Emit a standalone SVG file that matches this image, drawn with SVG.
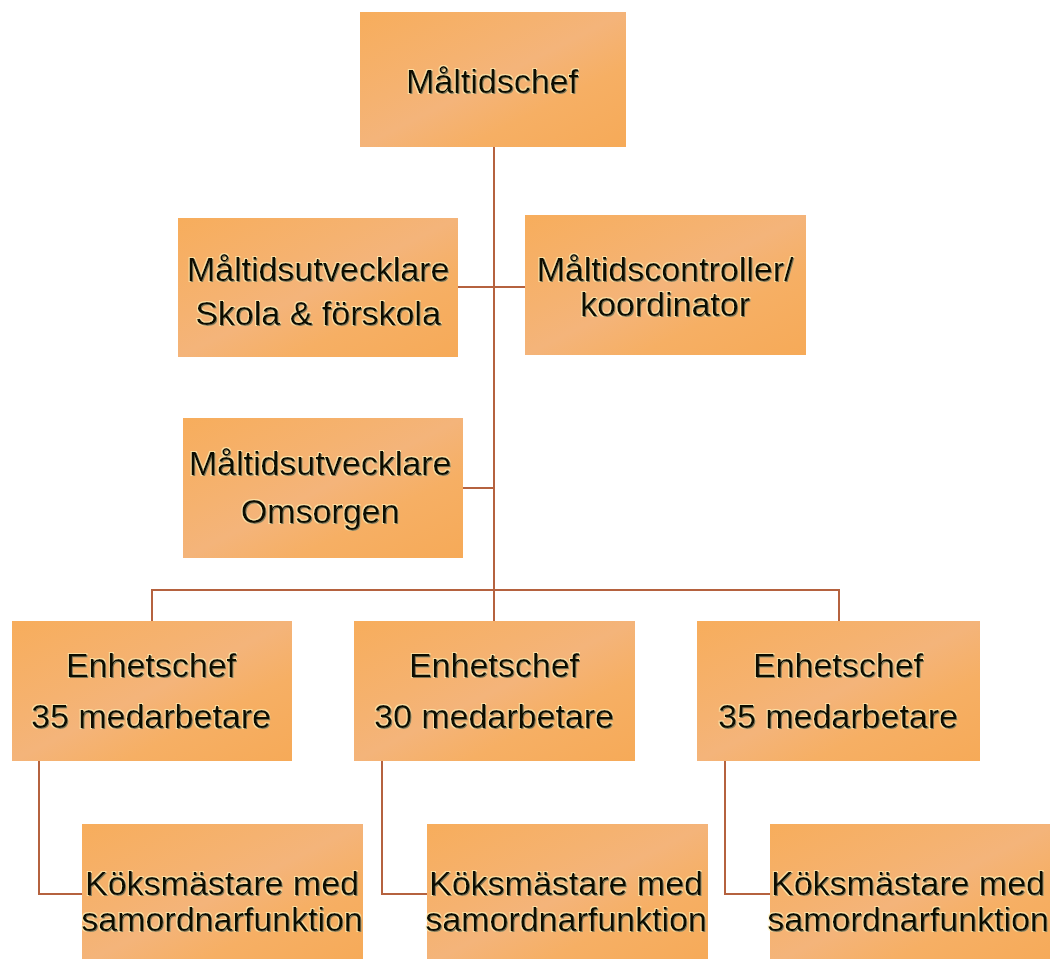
<svg xmlns="http://www.w3.org/2000/svg" width="1050" height="959" viewBox="0 0 1050 959">
  <defs>
    <linearGradient id="boxFill" x1="0" y1="0" x2="1" y2="1">
      <stop offset="0" stop-color="#F7AD5C"/>
      <stop offset="0.35" stop-color="#F5B270"/>
      <stop offset="0.5" stop-color="#F4B47A"/>
      <stop offset="0.7" stop-color="#F6AF64"/>
      <stop offset="1" stop-color="#F6AA58"/>
    </linearGradient>
    <!-- dark offset shadow plus a pale halo behind the labels -->
    <filter id="glow" x="-5%" y="-20%" width="110%" height="140%">
      <feOffset in="SourceAlpha" dx="1" dy="1" result="off"/>
      <feFlood flood-color="#000000" flood-opacity="0.75"/>
      <feComposite in2="off" operator="in" result="dark"/>
      <feMorphology in="SourceAlpha" operator="dilate" radius="1" result="fat"/>
      <feOffset in="fat" dx="-0.5" dy="-0.5" result="fatOff"/>
      <feFlood flood-color="#FFF2B8" flood-opacity="0.7"/>
      <feComposite in2="fatOff" operator="in" result="halo"/>
      <feMerge>
        <feMergeNode in="halo"/>
        <feMergeNode in="dark"/>
        <feMergeNode in="SourceGraphic"/>
      </feMerge>
    </filter>
  </defs>
  <style>
    .box { fill: url(#boxFill); }
    .lbl { font-family: "Liberation Sans", Arial, sans-serif; font-size: 34px; fill: #0E0A05; text-anchor: middle; filter: url(#glow); }
    .conn { fill: none; stroke: #B5623F; stroke-width: 2; }
  </style>

  <rect width="1050" height="959" fill="#FFFFFF"/>

  <g id="connectors">
    <line class="conn" x1="494" y1="147" x2="494" y2="621"/>
    <line class="conn" x1="458" y1="287" x2="525" y2="287"/>
    <line class="conn" x1="463" y1="488" x2="494" y2="488"/>
    <polyline class="conn" points="152,621 152,590 839,590 839,621"/>
    <polyline class="conn" points="39,761 39,894 82,894"/>
    <polyline class="conn" points="382,761 382,894 427,894"/>
    <polyline class="conn" points="725,761 725,894 770,894"/>
  </g>

  <g id="maltidschef">
    <rect class="box" x="360" y="12" width="266" height="135"/>
    <text class="lbl" x="492" y="93">Måltidschef</text>
  </g>

  <g id="utvecklare-skola">
    <rect class="box" x="178" y="218" width="280" height="139"/>
    <text class="lbl" x="318" y="281">Måltidsutvecklare</text>
    <text class="lbl" x="318" y="325">Skola &amp; förskola</text>
  </g>

  <g id="controller">
    <rect class="box" x="525" y="215" width="281" height="140"/>
    <text class="lbl" x="665" y="281">Måltidscontroller/</text>
    <text class="lbl" x="665" y="316">koordinator</text>
  </g>

  <g id="utvecklare-omsorg">
    <rect class="box" x="183" y="418" width="280" height="140"/>
    <text class="lbl" x="320" y="475">Måltidsutvecklare</text>
    <text class="lbl" x="320" y="523">Omsorgen</text>
  </g>

  <g id="enhetschef-1">
    <rect class="box" x="12" y="621" width="280" height="140"/>
    <text class="lbl" x="151" y="677">Enhetschef</text>
    <text class="lbl" x="151" y="728">35 medarbetare</text>
  </g>

  <g id="enhetschef-2">
    <rect class="box" x="354" y="621" width="281" height="140"/>
    <text class="lbl" x="494" y="677">Enhetschef</text>
    <text class="lbl" x="494" y="728">30 medarbetare</text>
  </g>

  <g id="enhetschef-3">
    <rect class="box" x="697" y="621" width="283" height="140"/>
    <text class="lbl" x="838" y="677">Enhetschef</text>
    <text class="lbl" x="838" y="728">35 medarbetare</text>
  </g>

  <g id="koksmastare-1">
    <rect class="box" x="82" y="824" width="281" height="140"/>
    <text class="lbl" x="222" y="895">Köksmästare med</text>
    <text class="lbl" x="222" y="931">samordnarfunktion</text>
  </g>

  <g id="koksmastare-2">
    <rect class="box" x="427" y="824" width="281" height="140"/>
    <text class="lbl" x="566" y="895">Köksmästare med</text>
    <text class="lbl" x="566" y="931">samordnarfunktion</text>
  </g>

  <g id="koksmastare-3">
    <rect class="box" x="770" y="824" width="285" height="140"/>
    <text class="lbl" x="908" y="895">Köksmästare med</text>
    <text class="lbl" x="908" y="931">samordnarfunktion</text>
  </g>
</svg>
